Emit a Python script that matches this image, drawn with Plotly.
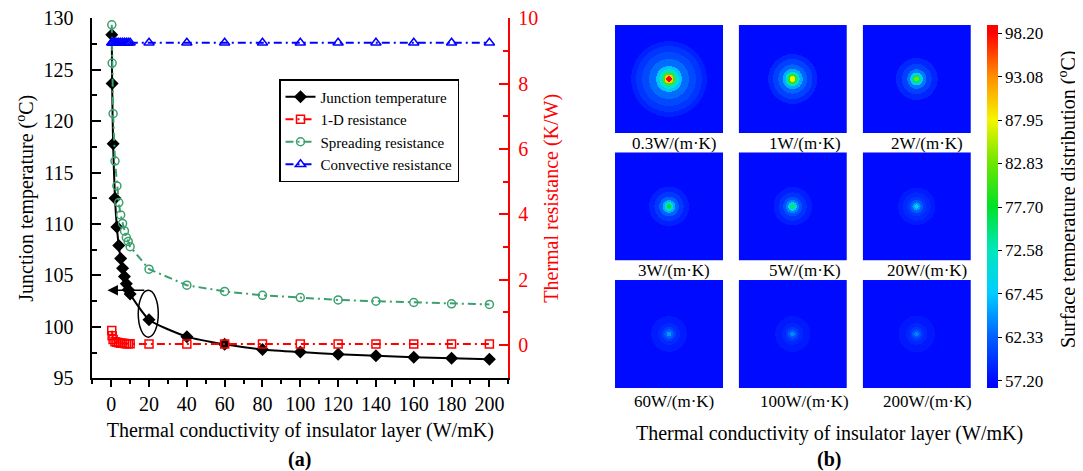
import numpy as np
import plotly.graph_objects as go

W, H = 1083, 471
OFF = 8  # page body margin of the HTML page
FONT = "Liberation Serif"

# ---------------- Panel (a) data ----------------
conductivity = [0.3, 0.5, 1, 2, 3, 4, 5, 6, 7, 8, 9, 10, 20, 40, 60, 80, 100, 120, 140, 160, 180, 200]
junction_temp = [128.4, 123.65, 117.8, 112.5, 109.7, 107.9, 106.65, 105.7, 104.9, 104.2, 103.6, 103.2,
                 100.7, 99.05, 98.3, 97.8, 97.55, 97.35, 97.2, 97.05, 96.95, 96.85]
res_1d = [0.44, 0.28, 0.17, 0.10, 0.08, 0.065, 0.055, 0.05, 0.045, 0.04, 0.04, 0.035,
          0.03, 0.03, 0.03, 0.03, 0.03, 0.03, 0.03, 0.03, 0.03, 0.03]
res_spreading = [9.80, 8.63, 7.08, 5.63, 4.87, 4.36, 3.98, 3.72, 3.49, 3.29, 3.17, 3.01,
                 2.32, 1.83, 1.64, 1.52, 1.45, 1.38, 1.34, 1.30, 1.26, 1.24]
res_convective = [9.25, 9.25, 9.25, 9.25, 9.25, 9.25, 9.25, 9.25, 9.25, 9.25, 9.25, 9.25,
                  9.25, 9.25, 9.25, 9.25, 9.25, 9.25, 9.25, 9.25, 9.25, 9.25]
x_ticks = [0, 20, 40, 60, 80, 100, 120, 140, 160, 180, 200]

# ---------------- Panel (b) data ----------------
panel_labels = ["0.3W/(m·K)", "1W/(m·K)", "2W/(m·K)",
                "3W/(m·K)", "5W/(m·K)", "20W/(m·K)",
                "60W/(m·K)", "100W/(m·K)", "200W/(m·K)"]
# isotherm bands: outer radius (fraction of half-width) and band temperature (°C)
ring_r_k03 = [0.05, 0.08, 0.12, 0.18, 0.24, 0.37, 0.50, 0.61, 0.70]
ring_t_k03 = [98.2, 90.0, 81.0, 72.0, 67.0, 63.0, 61.0, 59.8, 58.6]
ring_r_k1 = [0.05, 0.09, 0.13, 0.19, 0.27, 0.37, 0.46]
ring_t_k1 = [88.0, 80.0, 72.0, 66.0, 62.5, 60.5, 58.8]
ring_r_k2 = [0.045, 0.08, 0.12, 0.18, 0.28, 0.39]
ring_t_k2 = [83.0, 75.0, 68.0, 63.5, 60.5, 58.8]
ring_r_k3 = [0.045, 0.08, 0.12, 0.18, 0.27, 0.37]
ring_t_k3 = [78.0, 71.0, 66.0, 62.5, 60.0, 58.5]
ring_r_k5 = [0.045, 0.08, 0.12, 0.18, 0.26, 0.36]
ring_t_k5 = [75.0, 68.5, 64.0, 61.5, 59.7, 58.4]
ring_r_k20 = [0.04, 0.075, 0.12, 0.18, 0.26, 0.35]
ring_t_k20 = [69.0, 65.0, 62.0, 60.0, 59.0, 58.2]
ring_r_k60 = [0.045, 0.085, 0.13, 0.20, 0.33]
ring_t_k60 = [65.0, 62.3, 60.3, 59.0, 58.2]
ring_r_k100 = [0.045, 0.085, 0.13, 0.20, 0.33]
ring_t_k100 = [64.3, 61.8, 60.0, 58.9, 58.1]
ring_r_k200 = [0.045, 0.085, 0.13, 0.20, 0.34]
ring_t_k200 = [63.8, 61.5, 59.8, 58.8, 58.0]
base_temp = 57.2
cbar_ticks = [57.20, 62.33, 67.45, 72.58, 77.70, 82.83, 87.95, 93.08, 98.20]

panel_rings = [(ring_r_k03, ring_t_k03), (ring_r_k1, ring_t_k1), (ring_r_k2, ring_t_k2),
               (ring_r_k3, ring_t_k3), (ring_r_k5, ring_t_k5), (ring_r_k20, ring_t_k20),
               (ring_r_k60, ring_t_k60), (ring_r_k100, ring_t_k100), (ring_r_k200, ring_t_k200)]


def px(x):
    return (x - OFF) / W


def py(y):
    return 1 - (y - OFF) / H


grid = np.linspace(-1, 1, 217)
GX, GY = np.meshgrid(grid, grid)
GR = np.hypot(GX, GY)


def ring_field(radii, temps):
    z = np.full(GR.shape, base_temp)
    for r, t in reversed(list(zip(radii, temps))):
        z[GR <= r] = t
    return z


DASH = "8px,4px,2px,4px"
GREEN = "#3C9F6E"

fig = go.Figure()

fig.add_trace(go.Scatter(x=conductivity, y=res_1d, name="1-D resistance",
                         mode="lines+markers", xaxis="x", yaxis="y2",
                         line=dict(color="red", width=2, dash=DASH),
                         marker=dict(symbol="square-open", size=8, color="red",
                                     line=dict(width=1.5, color="red"))))
fig.add_trace(go.Scatter(x=conductivity, y=res_spreading, name="Spreading resistance",
                         mode="lines+markers", xaxis="x", yaxis="y2",
                         line=dict(color=GREEN, width=2, dash=DASH),
                         marker=dict(symbol="circle-open", size=8, color=GREEN,
                                     line=dict(width=1.5, color=GREEN))))
fig.add_trace(go.Scatter(x=conductivity, y=res_convective, name="Convective resistance",
                         mode="lines+markers", xaxis="x", yaxis="y2",
                         line=dict(color="blue", width=2, dash=DASH),
                         marker=dict(symbol="triangle-up-open", size=9, color="blue",
                                     line=dict(width=1.5, color="blue"))))
fig.add_trace(go.Scatter(x=conductivity, y=junction_temp, name="Junction temperature",
                         mode="lines+markers", xaxis="x", yaxis="y", legendrank=1,
                         line=dict(color="black", width=2, shape="spline", smoothing=0.6),
                         marker=dict(symbol="diamond", size=10, color="black")))

# ---------------- heatmaps ----------------
col_x = [(615.0, 723.3), (738.7, 847.0), (862.7, 971.0)]
row_y = [(25.0, 133.3), (152.3, 260.7), (280.0, 388.3)]
label_x = [674, 804.5, 927]
label_y = [144, 270.7, 401]

layout_axes = {}
annotations = []
for i, (radii, temps) in enumerate(panel_rings):
    r, c = divmod(i, 3)
    n = i + 3
    z = ring_field(radii, temps)
    fig.add_trace(go.Heatmap(z=z, x=grid, y=grid, coloraxis="coloraxis", zsmooth=False,
                             xaxis=f"x{n}", yaxis=f"y{n}", showlegend=False,
                             hoverinfo="skip"))
    layout_axes[f"xaxis{n}"] = dict(domain=[px(col_x[c][0]), px(col_x[c][1])], anchor=f"y{n}",
                                    visible=False, range=[-1.005, 1.005], fixedrange=True,
                                    automargin=False)
    layout_axes[f"yaxis{n}"] = dict(domain=[py(row_y[r][1]), py(row_y[r][0])], anchor=f"x{n}",
                                    visible=False, range=[-1.005, 1.005], fixedrange=True,
                                    automargin=False)
    annotations.append(dict(text=panel_labels[i], x=px(label_x[c]), y=py(label_y[r]),
                            xref="paper", yref="paper", showarrow=False,
                            xanchor="center", yanchor="middle",
                            font=dict(family=FONT, size=17, color="black")))

colorscale = [
    [0.00, "rgb(0,0,255)"],
    [0.02, "rgb(0,10,255)"],
    [0.14, "rgb(0,95,255)"],
    [0.26, "rgb(0,205,255)"],
    [0.38, "rgb(0,230,190)"],
    [0.50, "rgb(0,225,40)"],
    [0.62, "rgb(110,230,0)"],
    [0.74, "rgb(245,245,0)"],
    [0.86, "rgb(255,140,0)"],
    [0.98, "rgb(255,0,0)"],
    [1.00, "rgb(255,0,0)"],
]

# titles / labels
annotations += [
    dict(text="Thermal conductivity of insulator layer (W/mK)", x=px(829), y=py(433),
         xref="paper", yref="paper", showarrow=False, xanchor="center", yanchor="middle",
         font=dict(family=FONT, size=20, color="black")),
    dict(text="<b>(b)</b>", x=px(829), y=py(459), xref="paper", yref="paper", showarrow=False,
         xanchor="center", yanchor="middle", font=dict(family=FONT, size=20, color="black")),
    dict(text="<b>(a)</b>", x=px(299), y=py(459), xref="paper", yref="paper", showarrow=False,
         xanchor="center", yanchor="middle", font=dict(family=FONT, size=20, color="black")),
    dict(text="Surface temperature distribution (<sup>o</sup>C)", x=px(1067), y=py(200),
         xref="paper", yref="paper", showarrow=False, textangle=-90,
         xanchor="center", yanchor="middle", font=dict(family=FONT, size=20, color="black")),
    # arrow pointing to left axis
    dict(x=-2.0, y=103.55, ax=19.6, ay=103.55, xref="x", yref="y", axref="x", ayref="y",
         showarrow=True, arrowhead=2, arrowsize=1.4, arrowwidth=1.5, arrowcolor="black", text=" "),
]

shapes = [dict(type="circle", xref="x", yref="y", x0=14.3, x1=24.9, y0=99.0, y1=103.55,
               line=dict(color="black", width=1.5))]

axis_font = dict(family=FONT, size=20, color="black")

fig.update_layout(
    width=W, height=H, margin=dict(l=0, r=0, t=0, b=0, autoexpand=False),
    paper_bgcolor="white", plot_bgcolor="white",
    font=dict(family=FONT, size=20, color="black"),
    showlegend=True,
    legend=dict(x=px(279), y=py(79), xanchor="left", yanchor="top",
                bordercolor="black", borderwidth=1.5, bgcolor="white",
                font=dict(family=FONT, size=15, color="black"),
                tracegroupgap=0, itemwidth=30, traceorder="normal"),
    xaxis=dict(domain=[px(92.3), px(508.3)], range=[-10, 210], anchor="y", automargin=False,
               tickvals=x_ticks, ticks="outside", ticklen=7, tickwidth=1.5, tickcolor="black",
               minor=dict(dtick=10, tick0=0, ticks="outside", ticklen=4, tickwidth=1.5, tickcolor="black"),
               showline=True, linecolor="black", linewidth=1.7, showgrid=False, zeroline=False,
               tickfont=axis_font, ticklabeloverflow="allow",
               title=dict(text="Thermal conductivity of insulator layer (W/mK)", font=axis_font, standoff=9)),
    yaxis=dict(domain=[py(378.3), py(18.3)], range=[95, 130], anchor="x", automargin=False,
               tickvals=[95, 100, 105, 110, 115, 120, 125, 130],
               ticks="inside", ticklen=9, tickwidth=1.5, tickcolor="black",
               minor=dict(dtick=2.5, tick0=95, ticks="inside", ticklen=5, tickwidth=1.5, tickcolor="black"),
               showline=True, linecolor="black", linewidth=1.7, showgrid=False, zeroline=False,
               tickfont=axis_font, ticklabelstandoff=13, ticklabeloverflow="allow",
               title=dict(text="Junction temperature (<sup>o</sup>C)", font=axis_font, standoff=4)),
    yaxis2=dict(overlaying="y", side="right", anchor="x", range=[-1.02, 10], automargin=False,
                tickvals=[0, 2, 4, 6, 8, 10],
                ticks="inside", ticklen=9, tickwidth=1.5, tickcolor="red",
                minor=dict(dtick=1, tick0=0, ticks="inside", ticklen=5, tickwidth=1.5, tickcolor="red"),
                showline=True, linecolor="red", linewidth=1.7, showgrid=False, zeroline=False,
                tickfont=dict(family=FONT, size=20, color="red"), ticklabelstandoff=4,
                ticklabeloverflow="allow",
                title=dict(text="Thermal resistance (K/W)", font=dict(family=FONT, size=20, color="red"),
                           standoff=7)),
    coloraxis=dict(colorscale=colorscale, cmin=56.34, cmax=99.18,
                   colorbar=dict(x=px(987.3), xanchor="left", xpad=0, ypad=0,
                                 y=py(25), yanchor="top", len=363.3 / H, lenmode="fraction",
                                 thickness=11, thicknessmode="pixels", outlinewidth=0,
                                 tickvals=cbar_ticks, ticktext=[f"{v:.2f}" for v in cbar_ticks],
                                 ticks="outside", ticklen=4, tickwidth=1.2, tickcolor="black",
                                 tickfont=dict(family=FONT, size=17, color="black"))),
    annotations=annotations,
    shapes=shapes,
    **layout_axes,
)

fig.write_html("out.html")
